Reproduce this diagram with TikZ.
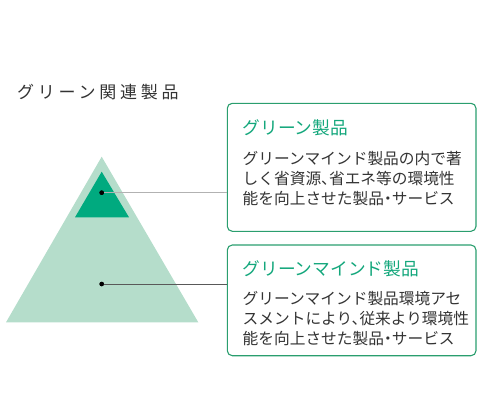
\documentclass[tikz,border=0pt]{standalone}
\usepackage{fontspec}
\setmainfont{Noto Sans CJK JP}
\newfontfamily\titlefont[LetterSpace=22]{Noto Sans CJK JP}
\newfontfamily\bodyfont[RawFeature=+halt]{Noto Sans CJK JP}
\definecolor{lightgreen}{HTML}{B5DDCB}
\definecolor{darkgreen}{HTML}{00AA7F}
\definecolor{boxgreen}{HTML}{2A9E6E}
\definecolor{headgreen}{HTML}{14A77C}
\definecolor{txtgray}{HTML}{333333}
\tikzset{
  infobox/.style={draw=boxgreen, line width=1.1pt, rounded corners=5pt, inner sep=0pt},
  dotnode/.style={circle, fill=black, inner sep=0pt, minimum size=4.5pt},
  headtext/.style={anchor=west, inner sep=0pt, text=headgreen, font=\fontsize{17.7}{20}\selectfont},
  bodytext/.style={anchor=west, inner sep=0pt, text=txtgray, align=left, font=\bodyfont\fontsize{15.7}{20}\selectfont},
}
\begin{document}
\begin{tikzpicture}[x=1pt,y=-1pt]
\useasboundingbox (0,0) rectangle (485,400);
% title
\node[anchor=west, inner sep=0pt, text=txtgray, font=\titlefont\fontsize{17}{19}\selectfont] (title) at (17,92) {グリーン関連製品};
% triangles
\fill[lightgreen] (101.7,156.7) -- (198.3,322.3) -- (6,322.3) -- cycle;
\fill[darkgreen] (101.7,171.7) -- (129,217.3) -- (75,217.3) -- cycle;
% boxes
\node[infobox, minimum width=248.7pt, minimum height=128pt] (box1) at (351.65,167.3) {};
\node[infobox, minimum width=248.7pt, minimum height=110.7pt] (box2) at (351.65,300.35) {};
% dots
\node[dotnode] (dot1) at (101.7,192.7) {};
\node[dotnode] (dot2) at (101.7,284) {};
% connectors
\draw[color=black!30, line width=1pt] (dot1.center) -- (box1.west |- dot1);
\draw[color=black!65, line width=1pt] (dot2.center) -- (box2.west |- dot2);
\node[dotnode] at (dot1) {};
\node[dotnode] at (dot2) {};
% box texts
\node[headtext] (h1) at (242.5,128) {グリーン製品};
\node[bodytext] (b1) at (242.5,178.3) {グリーンマインド製品の内で著\\しく省資源、省エネ等の環境性\\能を向上させた製品・サービス};
\node[headtext] (h2) at (242.5,268.3) {グリーンマインド製品};
\node[bodytext] (b2) at (242.5,318.3) {グリーンマインド製品環境アセ\\スメントにより、従来より環境性\\能を向上させた製品・サービス};
\end{tikzpicture}
\end{document}
